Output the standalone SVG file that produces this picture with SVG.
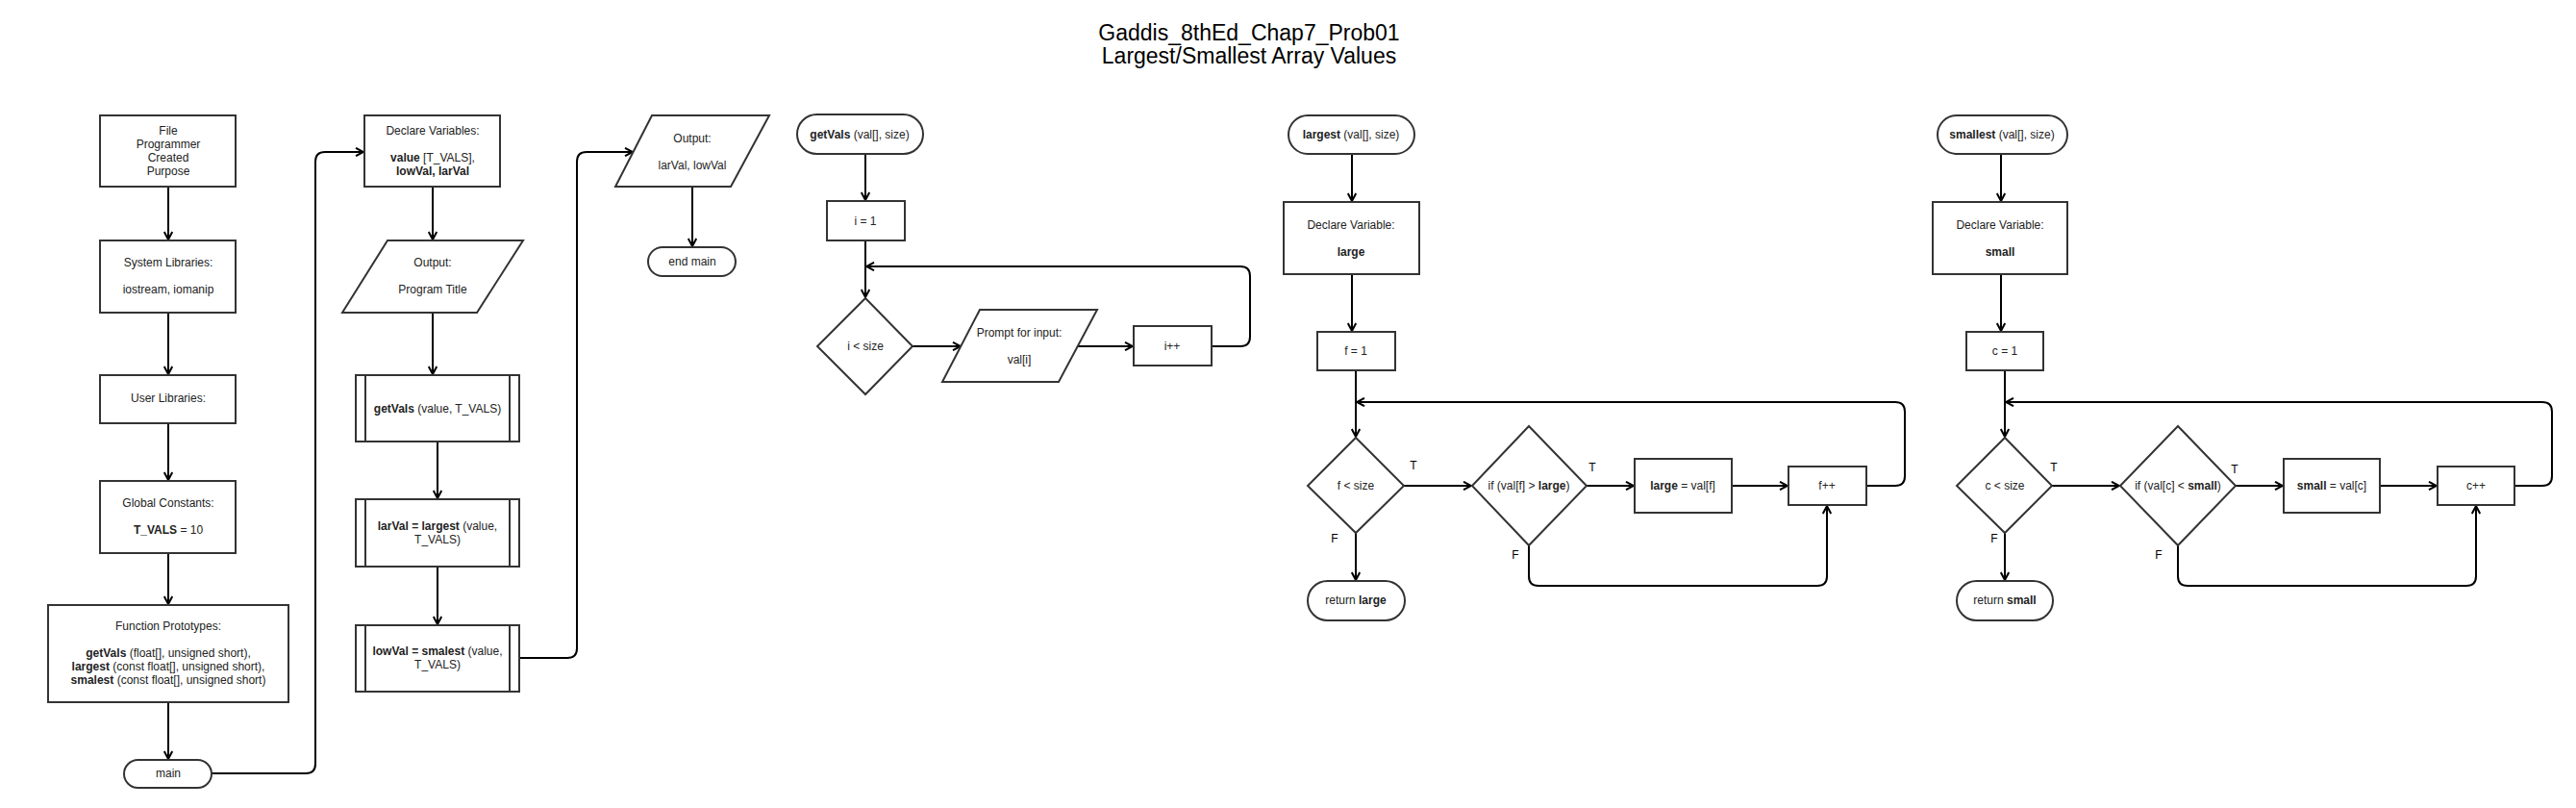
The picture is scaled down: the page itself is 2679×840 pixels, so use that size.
<svg xmlns="http://www.w3.org/2000/svg" width="2679" height="840" viewBox="0 0 2679 840">
<style>
.s{fill:#fff;stroke:#333;stroke-width:2}
.c{fill:none;stroke:#000;stroke-width:2;marker-end:url(#a)}
text{font-family:"Liberation Sans",Arial,sans-serif;font-size:12px;fill:#222;text-anchor:middle}
.b{font-weight:bold}
.t{font-size:23px;fill:#000}
.l{font-size:12px;fill:#000}
</style>
<defs>
<marker id="a" viewBox="0 0 10 10" refX="9" refY="5" markerWidth="10" markerHeight="10" markerUnits="userSpaceOnUse" orient="auto">
<path d="M1,0.8 L9,5 L1,9.2" fill="none" stroke="#000" stroke-width="2"/>
</marker>
</defs>
<rect width="2679" height="840" fill="#fff"/>
<g id="title">
<text class="t" x="1299" y="42">Gaddis_8thEd_Chap7_Prob01</text>
<text class="t" x="1299" y="66">Largest/Smallest Array Values</text>
</g>
<g id="connectors">
<path class="c" d="M175,194 V249"/>
<path class="c" d="M175,325 V389"/>
<path class="c" d="M175,440 V499"/>
<path class="c" d="M175,575 V628"/>
<path class="c" d="M175,730 V789"/>
<path class="c" d="M220,804 H318 Q328,804 328,794 V168 Q328,158 338,158 H378"/>
<path class="c" d="M450,194 V249"/>
<path class="c" d="M450,325 V389"/>
<path class="c" d="M455,459 V518"/>
<path class="c" d="M455,589 V649"/>
<path class="c" d="M540,684 H590 Q600,684 600,674 V168 Q600,158 610,158 H658"/>
<path class="c" d="M720,194 V256"/>
<path class="c" d="M900,160 V208"/>
<path class="c" d="M900,250 V309"/>
<path class="c" d="M949,360 H999"/>
<path class="c" d="M1121,360 H1178"/>
<path class="c" d="M1260,360 H1290 Q1300,360 1300,350 V287 Q1300,277 1290,277 H901"/>
<path class="c" d="M1406,160 V209"/>
<path class="c" d="M1406,285 V344"/>
<path class="c" d="M1410,385 V454"/>
<path class="c" d="M1460,505 H1530"/>
<path class="c" d="M1650,505 H1699"/>
<path class="c" d="M1801,505 H1859"/>
<path class="c" d="M1941,505 H1971 Q1981,505 1981,495 V428 Q1981,418 1971,418 H1411"/>
<path class="c" d="M1590,567 V599 Q1590,609 1600,609 H1890 Q1900,609 1900,599 V526"/>
<path class="c" d="M1410,554 V603"/>
<path class="c" d="M2081,160 V209"/>
<path class="c" d="M2081,285 V344"/>
<path class="c" d="M2085,385 V454"/>
<path class="c" d="M2134,505 H2204"/>
<path class="c" d="M2325,505 H2374"/>
<path class="c" d="M2475,505 H2534"/>
<path class="c" d="M2615,505 H2644 Q2654,505 2654,495 V428 Q2654,418 2644,418 H2086"/>
<path class="c" d="M2265,567 V599 Q2265,609 2275,609 H2565 Q2575,609 2575,599 V526"/>
<path class="c" d="M2085,554 V603"/>
<text class="l" x="1470" y="488">T</text>
<text class="l" x="1388" y="564">F</text>
<text class="l" x="1656" y="490">T</text>
<text class="l" x="1576" y="581">F</text>
<text class="l" x="2136" y="490">T</text>
<text class="l" x="2074" y="564">F</text>
<text class="l" x="2324" y="492">T</text>
<text class="l" x="2245" y="581">F</text>
</g>
<g id="n-file">
<rect class="s" x="104" y="120" width="141" height="74"/>
<text x="175" y="140">File</text>
<text x="175" y="154">Programmer</text>
<text x="175" y="168">Created</text>
<text x="175" y="182">Purpose</text>
</g>
<g id="n-syslib">
<rect class="s" x="104" y="250" width="141" height="75"/>
<text x="175" y="277">System Libraries:</text>
<text x="175" y="305">iostream, iomanip</text>
</g>
<g id="n-userlib">
<rect class="s" x="104" y="390" width="141" height="50"/>
<text x="175" y="418">User Libraries:</text>
</g>
<g id="n-const">
<rect class="s" x="104" y="500" width="141" height="75"/>
<text x="175" y="527">Global Constants:</text>
<text x="175" y="555"><tspan class="b">T_VALS</tspan> = 10</text>
</g>
<g id="n-proto">
<rect class="s" x="50" y="629" width="250" height="101"/>
<text x="175" y="655">Function Prototypes:</text>
<text x="175" y="683"><tspan class="b">getVals</tspan> (float[], unsigned short),</text>
<text x="175" y="697"><tspan class="b">largest</tspan> (const float[], unsigned short),</text>
<text x="175" y="711"><tspan class="b">smalest</tspan> (const float[], unsigned short)</text>
</g>
<g id="n-main">
<rect class="s" x="129" y="790" width="91" height="29" rx="14.5"/>
<text x="175" y="808">main</text>
</g>
<g id="n-declare">
<rect class="s" x="379" y="120" width="141" height="74"/>
<text x="450" y="140">Declare Variables:</text>
<text x="450" y="168"><tspan class="b">value</tspan> [T_VALS],</text>
<text x="450" y="182" class="b">lowVal, larVal</text>
</g>
<g id="n-outtitle">
<polygon class="s" points="403,250 544,250 496,325 356,325"/>
<text x="450" y="277">Output:</text>
<text x="450" y="305">Program Title</text>
</g>
<g id="n-getvalscall">
<rect class="s" x="370" y="390" width="170" height="69"/>
<path d="M380,390 V459 M530,390 V459" stroke="#333" stroke-width="2"/>
<text x="455" y="429"><tspan class="b">getVals</tspan> (value, T_VALS)</text>
</g>
<g id="n-largestcall">
<rect class="s" x="370" y="519" width="170" height="70"/>
<path d="M380,519 V589 M530,519 V589" stroke="#333" stroke-width="2"/>
<text x="455" y="551"><tspan class="b">larVal = largest</tspan> (value,</text>
<text x="455" y="565">T_VALS)</text>
</g>
<g id="n-smallestcall">
<rect class="s" x="370" y="650" width="170" height="69"/>
<path d="M380,650 V719 M530,650 V719" stroke="#333" stroke-width="2"/>
<text x="455" y="681"><tspan class="b">lowVal = smalest</tspan> (value,</text>
<text x="455" y="695">T_VALS)</text>
</g>
<g id="n-outvals">
<polygon class="s" points="678,120 800,120 760,194 640,194"/>
<text x="720" y="148">Output:</text>
<text x="720" y="176">larVal, lowVal</text>
</g>
<g id="n-endmain">
<rect class="s" x="674" y="257" width="91" height="30" rx="15"/>
<text x="720" y="276">end main</text>
</g>
<g id="n-getvals">
<rect class="s" x="829" y="119" width="131" height="41" rx="20.5"/>
<text x="894" y="144"><tspan class="b">getVals</tspan> (val[], size)</text>
</g>
<g id="n-i1">
<rect class="s" x="860" y="209" width="81" height="41"/>
<text x="900" y="234">i = 1</text>
</g>
<g id="n-icond">
<polygon class="s" points="900,310 949,360 900,410 850,360"/>
<text x="900" y="364">i &lt; size</text>
</g>
<g id="n-prompt">
<polygon class="s" points="1019,322 1141,322 1101,397 980,397"/>
<text x="1060" y="350">Prompt for input:</text>
<text x="1060" y="378">val[i]</text>
</g>
<g id="n-iinc">
<rect class="s" x="1179" y="339" width="81" height="41"/>
<text x="1219" y="364">i++</text>
</g>
<g id="n-largest">
<rect class="s" x="1340" y="120" width="131" height="40" rx="20"/>
<text x="1405" y="144"><tspan class="b">largest</tspan> (val[], size)</text>
</g>
<g id="n-declarge">
<rect class="s" x="1335" y="210" width="141" height="75"/>
<text x="1405" y="238">Declare Variable:</text>
<text x="1405" y="266" class="b">large</text>
</g>
<g id="n-f1">
<rect class="s" x="1370" y="345" width="81" height="40"/>
<text x="1410" y="369">f = 1</text>
</g>
<g id="n-fcond">
<polygon class="s" points="1410,455 1460,505 1410,554 1360,505"/>
<text x="1410" y="509">f &lt; size</text>
</g>
<g id="n-fif">
<polygon class="s" points="1590,443 1650,505 1590,567 1531,505"/>
<text x="1590" y="509">if (val[f] &gt; <tspan class="b">large</tspan>)</text>
</g>
<g id="n-largeassign">
<rect class="s" x="1700" y="477" width="101" height="56"/>
<text x="1750" y="509"><tspan class="b">large</tspan> = val[f]</text>
</g>
<g id="n-finc">
<rect class="s" x="1860" y="485" width="81" height="40"/>
<text x="1900" y="509">f++</text>
</g>
<g id="n-retlarge">
<rect class="s" x="1360" y="604" width="101" height="41" rx="20.5"/>
<text x="1410" y="628">return <tspan class="b">large</tspan></text>
</g>
<g id="n-smallest">
<rect class="s" x="2015" y="120" width="135" height="40" rx="20"/>
<text x="2082" y="144"><tspan class="b">smallest</tspan> (val[], size)</text>
</g>
<g id="n-decsmall">
<rect class="s" x="2010" y="210" width="140" height="75"/>
<text x="2080" y="238">Declare Variable:</text>
<text x="2080" y="266" class="b">small</text>
</g>
<g id="n-c1">
<rect class="s" x="2045" y="345" width="80" height="40"/>
<text x="2085" y="369">c = 1</text>
</g>
<g id="n-ccond">
<polygon class="s" points="2085,455 2134,505 2085,554 2035,505"/>
<text x="2085" y="509">c &lt; size</text>
</g>
<g id="n-cif">
<polygon class="s" points="2265,443 2325,505 2265,567 2205,505"/>
<text x="2265" y="509">if (val[c] &lt; <tspan class="b">small</tspan>)</text>
</g>
<g id="n-smallassign">
<rect class="s" x="2375" y="477" width="100" height="56"/>
<text x="2425" y="509"><tspan class="b">small</tspan> = val[c]</text>
</g>
<g id="n-cinc">
<rect class="s" x="2535" y="485" width="80" height="40"/>
<text x="2575" y="509">c++</text>
</g>
<g id="n-retsmall">
<rect class="s" x="2035" y="604" width="100" height="41" rx="20.5"/>
<text x="2085" y="628">return <tspan class="b">small</tspan></text>
</g>
</svg>
